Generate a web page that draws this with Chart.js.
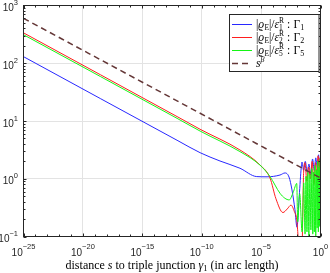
<!DOCTYPE html>
<html>
<head>
<meta charset="utf-8">
<script src="https://cdn.jsdelivr.net/npm/chart.js"></script>
<style>
html,body{margin:0;padding:0;background:#fff;}
#chart{display:block;}
</style>
</head>
<body>
<canvas id="chart" width="330" height="273"></canvas>
<script>
// s values are stored as log10(s)
const sBlue=[-25,-12,-10.14,-8.46,-6.78,-5.37,-4.5,-3.41,-2.99,-2.65,-2.4,-2.15,-1.98,-1.81,-1.64,-1.56,-1.42,-1.28,-1.12,-0.97,-0.82,-0.67,-0.52,-0.4,-0.27,-0.16,-0.08,0];
const valBlue=[130,4.55,2.83,2.03,1.52,1.09,1.08,1.16,1.26,1.07,0.64,0.29,0.145,0.43,1.41,1.95,1.4,2.0,1.3,1.8,1.15,2.2,1.4,2.3,1.6,2.6,1.5,2.4];

const sRed=[-25,-12,-10.14,-6.78,-5.09,-4.25,-3.75,-3.16,-2.8,-2.48,-2.2,-2.0,-1.89,-1.75,-1.6,-1.5,-1.42,-1.3,-1.15,-1.0,-0.85,-0.7,-0.55,-0.42,-0.3,-0.2,-0.1,-0.04,0];
const valRed=[336,11.7,7.2,3.15,1.73,1.03,0.45,0.26,0.3,0.35,0.27,0.195,0.1,0.03,0.02,0.2,1.3,1.9,0.9,1.6,1.0,2.0,0.8,1.9,1.2,2.5,0.9,2.3,1.3];

const sGreen=[-25,-12,-10.14,-6.78,-5.09,-4.25,-3.41,-3.0,-2.63,-2.3,-2.0,-1.92,-1.75,-1.55,-1.41,-1.3,-1.22,-1.14,-1.06,-0.98,-0.89,-0.81,-0.72,-0.65,-0.59,-0.52,-0.46,-0.4,-0.34,-0.28,-0.23,-0.18,-0.13,-0.08,-0.04,0];
const valGreen=[312,10.9,6.7,2.95,1.72,1.09,0.56,0.46,0.43,0.58,0.83,0.18,0.55,0.12,0.85,0.11,1.1,0.12,1.3,0.1,1.2,0.13,1.5,0.11,1.3,0.12,1.7,0.1,1.4,0.14,2.0,0.12,1.6,0.15,2.2,0.8];

const sDash=[-25,0];
const valDash=[600,1.03];

const xTickExp=[-25,-20,-15,-10,-5,0];
const yTickExp=[-1,0,1,2,3];
const legendIdx=['1','2','5'];

const axisCol='#262626';
const serif='"Liberation Serif","DejaVu Serif",serif';
const sans='"Liberation Sans",Arial,sans-serif';

function pts(s,v){
  return s.map((e,i)=>({x:Math.pow(10,e),y:v[i]}));
}

function expLabel(e){
  return String(e).replace('-','\u2212');
}

// draws a run of text pieces
function rich(ctx,x,y,parts){
  parts.forEach(p=>{
    if(p.stack){
      ctx.font=p.size+'px '+serif;
      const w1=ctx.measureText(p.stack[0]).width;
      const w2=ctx.measureText(p.stack[1]).width;
      ctx.fillText(p.stack[0],x,y+p.dyLow);
      ctx.fillText(p.stack[1],x,y+p.dyHigh);
      x+=Math.max(w1,w2)+(p.gap||0);
      return;
    }
    ctx.font=(p.it?'italic ':'')+p.size+'px '+serif;
    ctx.fillText(p.t,x,y+(p.dy||0));
    x+=ctx.measureText(p.t).width+(p.gap||0);
  });
  return x;
}

function richWidth(ctx,parts){
  let w=0;
  parts.forEach(p=>{
    if(p.stack){
      ctx.font=p.size+'px '+serif;
      w+=Math.max(ctx.measureText(p.stack[0]).width,ctx.measureText(p.stack[1]).width)+(p.gap||0);
    }else{
      ctx.font=(p.it?'italic ':'')+p.size+'px '+serif;
      w+=ctx.measureText(p.t).width+(p.gap||0);
    }
  });
  return w;
}

function powLabel(ctx,e,x0,yBase,yExp){
  ctx.font='10px '+sans; ctx.fillText('10',x0,yBase);
  const wb=ctx.measureText('10').width;
  ctx.font='7.5px '+sans; ctx.fillText(expLabel(e),x0+wb,yExp);
}
function powWidth(ctx,e){
  ctx.font='10px '+sans; const wb=ctx.measureText('10').width;
  ctx.font='7.5px '+sans; const we=ctx.measureText(expLabel(e)).width;
  return wb+we;
}

const decoPlugin={
  id:'deco',
  afterDatasetsDraw(chart){
    const ctx=chart.ctx;
    const a=chart.chartArea;
    const xs=chart.scales.x, ys=chart.scales.y;
    ctx.save();
    // box
    ctx.strokeStyle=axisCol;
    ctx.lineWidth=1;
    ctx.strokeRect(a.left,a.top,a.right-a.left,a.bottom-a.top);
    // x ticks (each decade)
    ctx.beginPath();
    for(let e=-25;e<=0;e++){
      const px=Math.round(xs.getPixelForValue(Math.pow(10,e)))+0.5;
      const len=(e%5===0)?3:2;
      ctx.moveTo(px,a.bottom);ctx.lineTo(px,a.bottom-len);
      ctx.moveTo(px,a.top);ctx.lineTo(px,a.top+len);
    }
    // y ticks (1..9 per decade)
    for(let e=-1;e<3;e++){
      for(let m=1;m<=9;m++){
        const py=Math.round(ys.getPixelForValue(m*Math.pow(10,e)))+0.5;
        const len=(m===1)?3:2;
        ctx.moveTo(a.left,py);ctx.lineTo(a.left+len,py);
        ctx.moveTo(a.right,py);ctx.lineTo(a.right-len,py);
      }
    }
    ctx.stroke();

    // tick labels
    ctx.fillStyle=axisCol;
    ctx.textBaseline='alphabetic';
    ctx.textAlign='left';
    xTickExp.forEach(e=>{
      const px=xs.getPixelForValue(Math.pow(10,e));
      const w=powWidth(ctx,e);
      powLabel(ctx,e,px-w/2,255.5,249);
    });
    yTickExp.forEach(e=>{
      const py=ys.getPixelForValue(Math.pow(10,e));
      const w=powWidth(ctx,e);
      powLabel(ctx,e,18-w,py+5.5,py-0.5);
    });

    // x axis title
    ctx.fillStyle='#000';
    const title=[
      {t:'distance ',size:12},{t:'s',it:true,size:12},{t:' to triple junction ',size:12},
      {t:'γ',it:true,size:12},{t:'1',size:8.5,dy:2},{t:' (in arc length)',size:12}
    ];
    const tw=richWidth(ctx,title);
    rich(ctx,(a.left+a.right)/2-tw/2,268.5,title);

    // legend
    const lx=229.5, ly=14.5, lw=89.5, lh=57;
    ctx.fillStyle='#fff';
    ctx.fillRect(lx,ly,lw,lh);
    ctx.strokeStyle=axisCol;
    ctx.lineWidth=1;
    ctx.strokeRect(lx,ly,lw,lh);
    const rows=[24,37,50,63];
    chart.data.datasets.forEach((ds,i)=>{
      const yy=rows[i]+0.5;
      ctx.strokeStyle=ds.borderColor;
      ctx.lineWidth=ds.borderWidth;
      ctx.setLineDash(ds.borderDash||[]);
      ctx.beginPath();ctx.moveTo(232,yy);ctx.lineTo(252,yy);ctx.stroke();
      ctx.setLineDash([]);
      ctx.fillStyle='#000';
      let parts;
      if(i<3){
        parts=[
          {t:'|',size:11.5},{t:'ϱ',it:true,size:11.5,gap:0.3},{t:'E',size:7.5,dy:2},{t:'|/',size:11.5},
          {t:'ε',it:true,size:11.5},{stack:[legendIdx[i],'R'],size:7.5,dyLow:2.5,dyHigh:-4.5},
          {t:' : ',size:11.5,gap:0.5},{t:'Γ',size:11.5},{t:legendIdx[i],size:8,dy:2}
        ];
      }else{
        parts=[{t:'s',it:true,size:11.5},{t:'β',it:true,size:8,dy:-4.5}];
      }
      rich(ctx,256,rows[i]+3.5,parts);
    });
    ctx.restore();
  }
};

new Chart(document.getElementById('chart'),{
  type:'line',
  data:{
    datasets:[
      {data:pts(sBlue,valBlue),borderColor:'rgb(40,40,255)',borderWidth:1,order:4},
      {data:pts(sRed,valRed),borderColor:'rgb(255,30,30)',borderWidth:1,order:3},
      {data:pts(sGreen,valGreen),borderColor:'rgb(20,245,20)',borderWidth:1,order:2},
      {data:pts(sDash,valDash),borderColor:'rgb(100,55,55)',borderWidth:1.5,borderDash:[6,4],order:1}
    ]
  },
  options:{
    responsive:false,
    devicePixelRatio:1,
    animation:false,
    elements:{point:{radius:0},line:{cubicInterpolationMode:'monotone'}},
    layout:{padding:{top:5.5,right:9.5,left:0,bottom:0}},
    plugins:{legend:{display:false},tooltip:{enabled:false}},
    scales:{
      x:{
        type:'logarithmic',min:1e-25,max:1,
        afterBuildTicks:s=>{s.ticks=xTickExp.map(e=>({value:Math.pow(10,e)}));},
        afterFit:s=>{s.height=36.5;},
        ticks:{display:false},
        grid:{drawTicks:false,color:'#e3e3e3',lineWidth:1},
        border:{display:false}
      },
      y:{
        type:'logarithmic',min:0.1,max:1000,
        afterBuildTicks:s=>{s.ticks=yTickExp.map(e=>({value:Math.pow(10,e)}));},
        afterFit:s=>{s.width=23.5;},
        ticks:{display:false},
        grid:{drawTicks:false,color:'#e3e3e3',lineWidth:1},
        border:{display:false}
      }
    }
  },
  plugins:[decoPlugin]
});
</script>
</body>
</html>
